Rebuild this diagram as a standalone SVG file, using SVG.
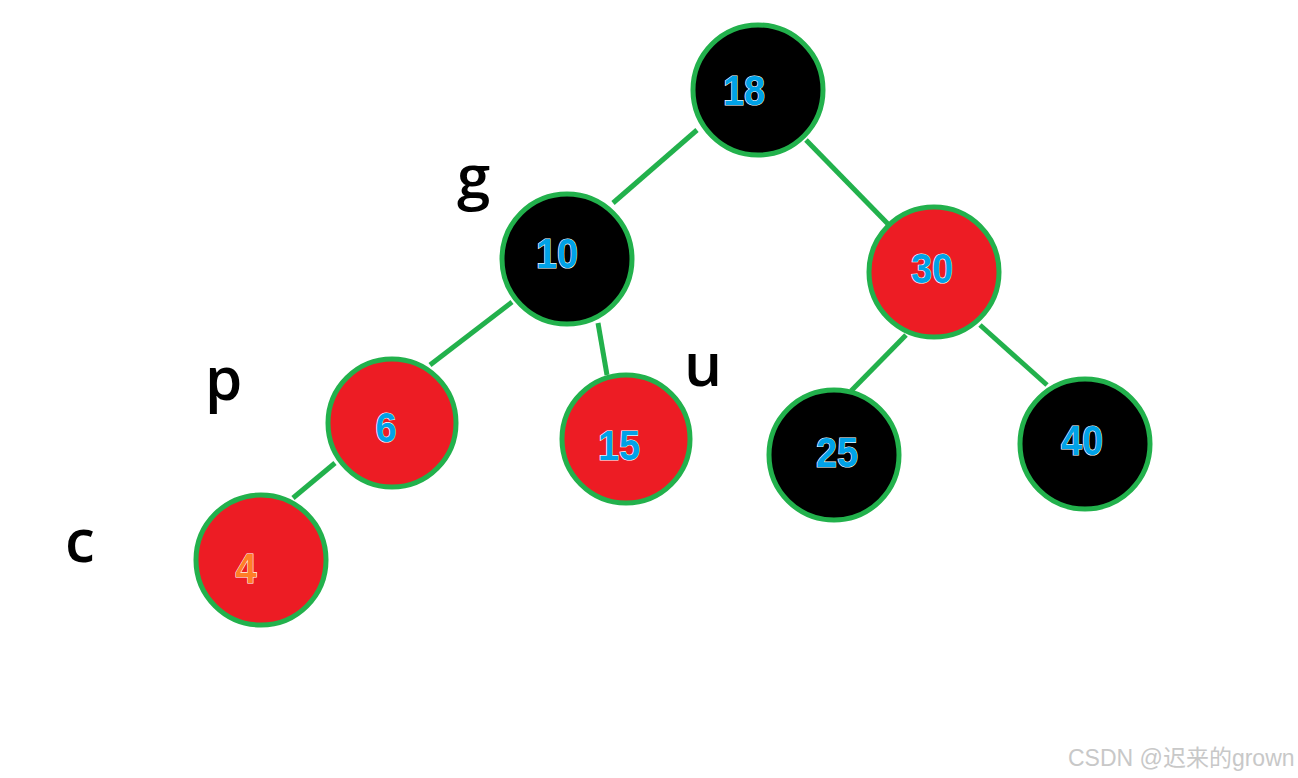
<svg xmlns="http://www.w3.org/2000/svg" width="1298" height="778" viewBox="0 0 1298 778">
<style>
.edge{stroke:#22B14C;stroke-width:5;stroke-linecap:butt}
.blk{fill:#000;stroke:#22B14C;stroke-width:5}
.red{fill:#ED1C24;stroke:#22B14C;stroke-width:5}
.num{font-family:"Liberation Sans",Arial,sans-serif;font-weight:bold;font-size:42px;fill:#00A2E8;stroke:#ffffff;stroke-width:1.2;paint-order:stroke;text-anchor:middle}
.lbl{font-family:"Open Sans","Liberation Sans",sans-serif;font-weight:600;font-size:60px;fill:#000}
.wm{font-family:"Liberation Sans","Noto Sans CJK SC",sans-serif;font-size:23px;fill:#c8c8c8}
</style>
<rect width="1298" height="778" fill="#fff"/>
<g id="connectors">
<line class="edge" x1="697" y1="130" x2="613" y2="203"/>
<line class="edge" x1="806" y1="140" x2="888" y2="224"/>
<line class="edge" x1="512" y1="302" x2="430" y2="365"/>
<line class="edge" x1="598" y1="323" x2="607" y2="375"/>
<line class="edge" x1="335" y1="463" x2="293" y2="498"/>
<line class="edge" x1="906" y1="335" x2="851" y2="391"/>
<line class="edge" x1="980" y1="325" x2="1047" y2="385"/>
</g>
<g id="n18"><circle class="blk" cx="758" cy="90" r="65"/><text class="num" transform="translate(744,105) scale(0.9,1)">18</text></g>
<g id="n10"><circle class="blk" cx="567" cy="259" r="65"/><text class="num" transform="translate(557,268) scale(0.9,1)">10</text></g>
<g id="n30"><circle class="red" cx="934" cy="272" r="65"/><text class="num" transform="translate(932,283) scale(0.9,1)">30</text></g>
<g id="n6"><circle class="red" cx="392" cy="423" r="64"/><text class="num" transform="translate(386,442) scale(0.9,1)">6</text></g>
<g id="n15"><circle class="red" cx="626" cy="439" r="64"/><text class="num" transform="translate(619,460) scale(0.9,1)">15</text></g>
<g id="n25"><circle class="blk" cx="834" cy="455" r="65"/><text class="num" transform="translate(837,467) scale(0.9,1)">25</text></g>
<g id="n40"><circle class="blk" cx="1085" cy="444" r="65"/><text class="num" transform="translate(1082,455) scale(0.9,1)">40</text></g>
<g id="n4"><circle class="red" cx="261" cy="560" r="65"/><text class="num" transform="translate(246,583) scale(0.9,1)" style="fill:#FF7F27">4</text></g>
<g id="labels">
<text class="lbl" x="457" y="198">g</text>
<text class="lbl" x="205" y="400">p</text>
<text class="lbl" x="684" y="386">u</text>
<text class="lbl" x="65" y="562">c</text>
</g>
<text class="wm" x="1068" y="766">CSDN @迟来的grown</text>
</svg>
